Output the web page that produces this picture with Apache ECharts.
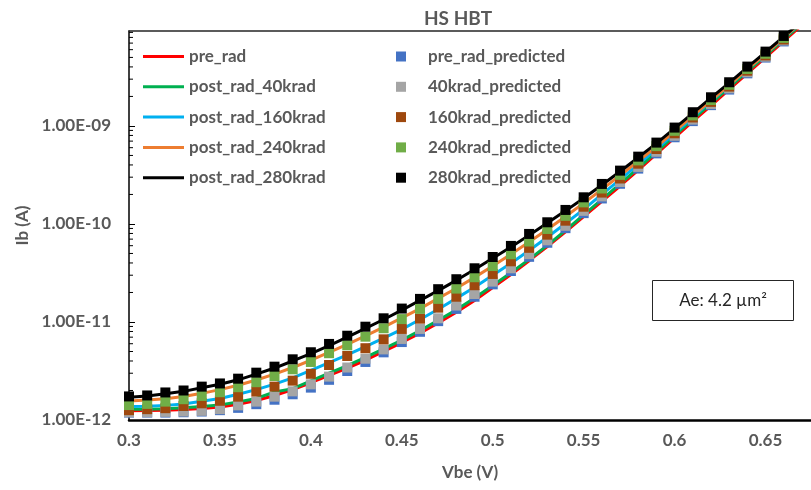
<!DOCTYPE html>
<html>
<head>
<meta charset="utf-8">
<script src="https://cdn.jsdelivr.net/npm/echarts@6/dist/echarts.min.js"></script>
<style>html,body{margin:0;padding:0;background:#fff}#c{width:811px;height:490px}</style>
</head>
<body>
<div id="c"></div>
<script>
// ---- data ----
const vbe = [0.30,0.31,0.32,0.33,0.34,0.35,0.36,0.37,0.38,0.39,0.40,0.41,0.42,0.43,0.44,0.45,0.46,0.47,0.48,0.49,0.50,0.51,0.52,0.53,0.54,0.55,0.56,0.57,0.58,0.59,0.60,0.61,0.62,0.63,0.64,0.65,0.66];
const vbeLine = [0.30,0.31,0.32,0.33,0.34,0.35,0.36,0.37,0.38,0.39,0.40,0.41,0.42,0.43,0.44,0.45,0.46,0.47,0.48,0.49,0.50,0.51,0.52,0.53,0.54,0.55,0.56,0.57,0.58,0.59,0.60,0.61,0.62,0.63,0.64,0.65,0.66,0.67];

// measured (lines)
const preRad = [1.24e-12,1.25e-12,1.26e-12,1.28e-12,1.31e-12,1.36e-12,1.45e-12,1.58e-12,1.78e-12,2.04e-12,2.40e-12,2.85e-12,3.39e-12,4.07e-12,5.01e-12,6.17e-12,7.67e-12,9.77e-12,1.26e-11,1.66e-11,2.24e-11,3.05e-11,4.22e-11,5.89e-11,8.32e-11,1.19e-10,1.70e-10,2.44e-10,3.55e-10,5.19e-10,7.59e-10,1.11e-9,1.61e-9,2.36e-9,3.44e-9,5.01e-9,7.35e-9,1.07e-8];
const post40 = [1.29e-12,1.29e-12,1.30e-12,1.33e-12,1.37e-12,1.42e-12,1.53e-12,1.66e-12,1.93e-12,2.09e-12,2.51e-12,3.01e-12,3.59e-12,4.35e-12,5.31e-12,6.53e-12,8.17e-12,1.04e-11,1.33e-11,1.76e-11,2.36e-11,3.18e-11,4.35e-11,6.05e-11,8.61e-11,1.24e-10,1.78e-10,2.56e-10,3.72e-10,5.43e-10,7.98e-10,1.17e-9,1.70e-9,2.47e-9,3.61e-9,5.22e-9,7.62e-9,1.11e-8];
const post160 = [1.37e-12,1.38e-12,1.41e-12,1.46e-12,1.55e-12,1.66e-12,1.83e-12,2.04e-12,2.32e-12,2.69e-12,3.20e-12,3.85e-12,4.62e-12,5.60e-12,6.84e-12,8.41e-12,1.06e-11,1.35e-11,1.74e-11,2.26e-11,2.99e-11,3.98e-11,5.37e-11,7.33e-11,1.01e-10,1.41e-10,2.00e-10,2.83e-10,4.05e-10,5.81e-10,8.41e-10,1.23e-9,1.79e-9,2.59e-9,3.78e-9,5.43e-9,7.91e-9,1.15e-8];
const post240 = [1.56e-12,1.60e-12,1.65e-12,1.74e-12,1.87e-12,2.04e-12,2.26e-12,2.56e-12,2.94e-12,3.43e-12,4.07e-12,4.90e-12,5.92e-12,7.21e-12,8.85e-12,1.10e-11,1.37e-11,1.74e-11,2.21e-11,2.85e-11,3.72e-11,4.90e-11,6.53e-11,8.77e-11,1.19e-10,1.63e-10,2.25e-10,3.12e-10,4.37e-10,6.12e-10,8.81e-10,1.27e-9,1.82e-9,2.61e-9,3.80e-9,5.45e-9,7.94e-9,1.16e-8];
const post280 = [1.71e-12,1.76e-12,1.85e-12,1.96e-12,2.13e-12,2.32e-12,2.57e-12,2.94e-12,3.39e-12,4.00e-12,4.76e-12,5.75e-12,7.00e-12,8.61e-12,1.06e-11,1.32e-11,1.66e-11,2.09e-11,2.66e-11,3.43e-11,4.47e-11,5.82e-11,7.67e-11,1.02e-10,1.36e-10,1.83e-10,2.50e-10,3.43e-10,4.76e-10,6.64e-10,9.44e-10,1.35e-9,1.93e-9,2.75e-9,3.96e-9,5.65e-9,8.17e-9,1.18e-8];

// predicted (markers)
const predPre = [1.19e-12,1.19e-12,1.19e-12,1.20e-12,1.22e-12,1.26e-12,1.33e-12,1.45e-12,1.61e-12,1.83e-12,2.14e-12,2.57e-12,3.16e-12,3.91e-12,4.90e-12,6.24e-12,7.94e-12,1.02e-11,1.36e-11,1.81e-11,2.42e-11,3.31e-11,4.62e-11,6.43e-11,9.06e-11,1.29e-10,1.82e-10,2.57e-10,3.67e-10,5.25e-10,7.66e-10,1.12e-9,1.63e-9,2.35e-9,3.44e-9,4.98e-9,7.28e-9];
const pred40 = [1.20e-12,1.20e-12,1.21e-12,1.22e-12,1.24e-12,1.29e-12,1.41e-12,1.54e-12,1.73e-12,1.96e-12,2.31e-12,2.77e-12,3.43e-12,4.22e-12,5.25e-12,6.71e-12,8.49e-12,1.09e-11,1.47e-11,1.93e-11,2.58e-11,3.53e-11,4.92e-11,6.81e-11,9.57e-11,1.36e-10,1.91e-10,2.68e-10,3.82e-10,5.45e-10,7.93e-10,1.16e-9,1.67e-9,2.42e-9,3.53e-9,5.09e-9,7.45e-9];
const pred160 = [1.26e-12,1.29e-12,1.32e-12,1.39e-12,1.48e-12,1.57e-12,1.73e-12,1.95e-12,2.19e-12,2.52e-12,2.96e-12,3.64e-12,4.50e-12,5.40e-12,6.65e-12,8.49e-12,1.08e-11,1.40e-11,1.81e-11,2.37e-11,3.09e-11,4.16e-11,5.71e-11,7.78e-11,1.08e-10,1.50e-10,2.09e-10,2.91e-10,4.12e-10,5.82e-10,8.41e-10,1.22e-9,1.76e-9,2.52e-9,3.66e-9,5.24e-9,7.62e-9];
const pred240 = [1.42e-12,1.46e-12,1.54e-12,1.63e-12,1.76e-12,1.92e-12,2.16e-12,2.43e-12,2.81e-12,3.29e-12,3.91e-12,4.80e-12,5.78e-12,7.08e-12,8.63e-12,1.07e-11,1.36e-11,1.72e-11,2.19e-11,2.86e-11,3.72e-11,4.91e-11,6.62e-11,8.89e-11,1.21e-10,1.66e-10,2.30e-10,3.17e-10,4.45e-10,6.22e-10,8.91e-10,1.28e-9,1.84e-9,2.63e-9,3.81e-9,5.45e-9,7.91e-9];
const pred280 = [1.74e-12,1.78e-12,1.91e-12,2.00e-12,2.19e-12,2.36e-12,2.64e-12,3.04e-12,3.50e-12,4.16e-12,4.91e-12,5.97e-12,7.24e-12,8.95e-12,1.09e-11,1.37e-11,1.72e-11,2.16e-11,2.73e-11,3.53e-11,4.60e-11,5.97e-11,7.91e-11,1.04e-10,1.39e-10,1.87e-10,2.56e-10,3.50e-10,4.86e-10,6.76e-10,9.62e-10,1.38e-9,1.96e-9,2.79e-9,4.03e-9,5.73e-9,8.28e-9];

const lineNames = ['pre_rad','post_rad_40krad','post_rad_160krad','post_rad_240krad','post_rad_280krad'];
const predNames = ['pre_rad_predicted','40krad_predicted','160krad_predicted','240krad_predicted','280krad_predicted'];
const lineColors = ['#FF0000','#00B050','#00B0F0','#ED7D31','#000000'];
const predColors = ['#4472C4','#A5A5A5','#9E480E','#70AD47','#000000'];

const X_MIN = 0.3, X_MAX = 0.675, X_STEP = 0.05;
const Y_MIN = 1e-12, Y_MAX = 9.3e-9;
const minorTickValues = [2e-12,3e-12,4e-12,5e-12,6e-12,7e-12,8e-12,9e-12,2e-11,3e-11,4e-11,5e-11,6e-11,7e-11,8e-11,9e-11,2e-10,3e-10,4e-10,5e-10,6e-10,7e-10,8e-10,9e-10,2e-9,3e-9,4e-9,5e-9,6e-9,7e-9,8e-9,9e-9];
const titleText = 'HS HBT';
const xName = 'Vbe (V)', yName = 'Ib (A)';
const noteText = 'Ae: 4.2 \u00B5m\u00B2';

// ---- chart ----
const FONT = 'Lato';
const GREY = '#595959';
const lineData = [preRad, post40, post160, post240, post280];
const predData = [predPre, pred40, pred160, pred240, pred280];

function fmtY(v){
  const parts = v.toExponential(2).split('e');
  const n = parseInt(parts[1],10);
  return parts[0] + 'E' + (n<0?'-':'+') + String(Math.abs(n)).padStart(2,'0');
}

const series = [];
lineNames.forEach((nm,i)=>{
  series.push({
    name: nm, type:'line', symbol:'none', showSymbol:false,
    data: vbeLine.map((x,j)=>[x, lineData[i][j]]),
    lineStyle:{color:lineColors[i], width:3}, itemStyle:{color:lineColors[i]},
    clip:true, z:2
  });
});
predNames.forEach((nm,i)=>{
  series.push({
    name: nm, type:'scatter', symbol:'rect', symbolSize:10,
    data: vbe.map((x,j)=>[x, predData[i][j]]),
    itemStyle:{color:predColors[i], opacity:1}, z:3
  });
});
series.push({
  type:'custom', silent:true, z:4,
  data: minorTickValues.map(v=>[X_MIN, v]),
  renderItem: function(params, api){
    const p = api.coord([api.value(0), api.value(1)]);
    return {type:'line', shape:{x1:p[0], y1:p[1], x2:p[0]+4, y2:p[1]}, style:{stroke:'#000', lineWidth:1}};
  }
});

const legendText = {fontFamily:FONT, fontSize:17, fontWeight:'bold', color:GREY, lineHeight:16};
const chart = echarts.init(document.getElementById('c'), null, {renderer:'canvas'});
chart.setOption({
  animation:false,
  backgroundColor:'#fff',
  title:{text:titleText, left:453, top:4, textAlign:'center',
    textStyle:{fontFamily:FONT, fontSize:19, fontWeight:'bold', color:GREY}},
  grid:{left:129, top:31, right:0, bottom:70, containLabel:false},
  legend:[
    {data:lineNames.map((n,i)=>({name:n, icon:'rect', itemStyle:{color:lineColors[i]}})),
      orient:'vertical', left:143, top:48, padding:0, itemWidth:41, itemHeight:3, itemGap:13.3,
      selectedMode:false, textStyle:legendText},
    {data:predNames.map((n,i)=>({name:n, icon:'rect', itemStyle:{color:predColors[i]}})),
      orient:'vertical', left:396, top:48, padding:0, itemWidth:10, itemHeight:10, itemGap:13.3,
      selectedMode:false, textStyle:Object.assign({}, legendText, {padding:[0,0,0,17]})}
  ],
  xAxis:[
    {type:'value', min:X_MIN, max:X_MAX, interval:X_STEP, position:'bottom',
      name:xName, nameLocation:'middle', nameGap:44,
      nameTextStyle:{fontFamily:FONT, fontSize:17, fontWeight:'bold', color:GREY},
      axisLine:{show:true, lineStyle:{color:'#000', width:2.5}},
      axisTick:{show:false}, splitLine:{show:false},
      axisLabel:{showMaxLabel:false, margin:12, fontFamily:FONT, fontSize:17, fontWeight:'bold', color:GREY}},
    {type:'value', min:X_MIN, max:X_MAX, position:'top',
      axisLine:{show:true, onZero:false, lineStyle:{color:'#262626', width:1.5}},
      axisTick:{show:false}, axisLabel:{show:false}, splitLine:{show:false}}
  ],
  yAxis:{type:'log', logBase:10, min:Y_MIN, max:Y_MAX,
    name:yName, nameLocation:'middle', nameGap:97, nameRotate:90,
    nameTextStyle:{fontFamily:FONT, fontSize:17, fontWeight:'bold', color:GREY},
    axisLine:{show:true, lineStyle:{color:'#000', width:1.5}},
    axisTick:{show:true, inside:true, length:6, lineStyle:{color:'#000', width:1}},
    splitLine:{show:false}, minorTick:{show:false},
    axisLabel:{showMaxLabel:false, margin:18, formatter:fmtY, fontFamily:FONT, fontSize:17, fontWeight:'bold', color:GREY}},
  graphic:[{
    type:'group', left:652, top:280, children:[
      {type:'rect', shape:{x:0, y:0, width:141, height:40}, style:{fill:'#fff', stroke:'#262626', lineWidth:1}},
      {type:'text', x:70.5, y:20, style:{text:noteText, fill:'#262626', font:'17px Lato', textAlign:'center', textVerticalAlign:'middle'}}
    ]
  }],
  series: series
});
</script>
</body>
</html>
